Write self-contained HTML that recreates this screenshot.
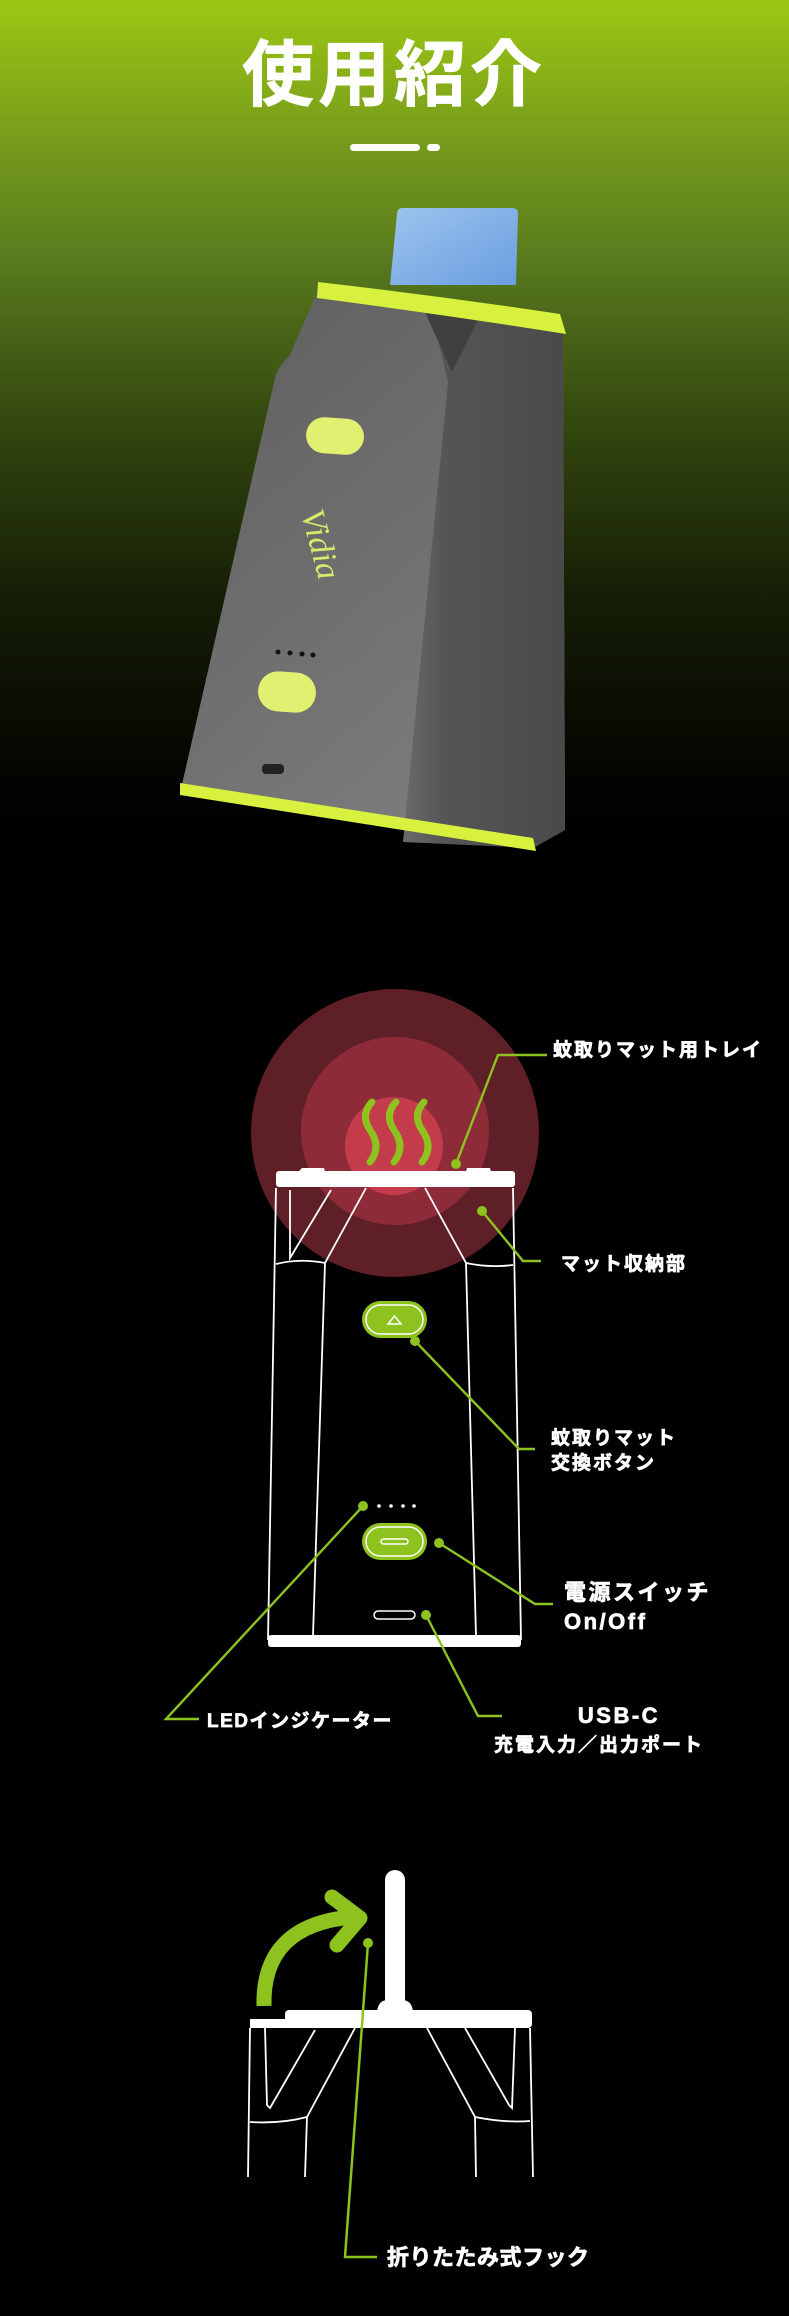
<!DOCTYPE html>
<html><head><meta charset="utf-8"><style>
html,body{margin:0;padding:0;background:#000;}
body{width:789px;height:2316px;position:relative;overflow:hidden;font-family:"Liberation Sans","Noto Sans CJK JP",sans-serif;}
.bg{position:absolute;left:0;top:0;width:789px;height:840px;background:linear-gradient(#9cc813 0px,#7ca21a 120px,#587a1e 260px,#34480f 420px,#151d06 600px,#030401 780px,#000 840px);}
svg{position:absolute;left:0;top:0;}
.t{fill:#fff;font-weight:bold;font-family:"Liberation Sans","Noto Sans CJK JP",sans-serif;stroke:#fff;stroke-width:0.7;}
</style></head><body>
<div class="bg"></div>
<svg width="789" height="2316" viewBox="0 0 789 2316">
<defs>
<linearGradient id="lf" x1="0" y1="0" x2="0.6" y2="1"><stop offset="0" stop-color="#5e5e5e"/><stop offset="1" stop-color="#7c7c7c"/></linearGradient>
<linearGradient id="rf" x1="0" y1="0" x2="1" y2="0"><stop offset="0" stop-color="#6a6a6a"/><stop offset="0.25" stop-color="#555"/><stop offset="1" stop-color="#4a4a4a"/></linearGradient>
<linearGradient id="bl" x1="0" y1="0" x2="1" y2="1"><stop offset="0" stop-color="#9cc4ee"/><stop offset="1" stop-color="#6a9ee0"/></linearGradient>
</defs>
<text x="394" y="100" text-anchor="middle" class="t" font-size="72" letter-spacing="4" stroke-width="1">使用紹介</text>
<rect x="350" y="144" width="70" height="7" rx="3.5" fill="#fff"/>
<rect x="427" y="144" width="13" height="7" rx="3.5" fill="#fff"/>

<!-- device 1 -->
<path d="M397 214 Q397 208 403 208 L512 208 Q518 208 518 214 L516 285 L390 285 Z" fill="url(#bl)"/>
<path d="M317 292 L563 327 L565 830 L533 848 L180 793 L183 780 L275 378 Q278 366 290 355 Z" fill="url(#lf)"/>
<path d="M432 314 L563 327 L565 830 L533 848 L403 842 L448 382 Z" fill="url(#rf)"/>
<path d="M425 312 L478 320 L452 372 Z" fill="#404040"/>
<path d="M318 282 Q440 296 560 314 L566 334 Q440 314 317 298 Z" fill="#d8f03e"/>
<path d="M180 783 L533 838 L536 851 L180 795 Z" fill="#d8f03e"/>
<rect x="306" y="418" width="58" height="36" rx="18" fill="#e0f070" transform="rotate(4 335 436)"/>
<rect x="258" y="672" width="58" height="40" rx="20" fill="#e0f070" transform="rotate(4 287 692)"/>
<g fill="#111"><circle cx="278" cy="652" r="2.5"/><circle cx="290" cy="653" r="2.5"/><circle cx="302" cy="654" r="2.5"/><circle cx="313" cy="655" r="2.5"/></g>
<rect x="262" y="764" width="22" height="10" rx="4" fill="#222"/>
<text x="310" y="547" fill="#d8ea6a" font-size="34" font-style="italic" font-family="Liberation Serif,serif" transform="rotate(75 310 547)" text-anchor="middle">Vidia</text>

<!-- section 2 -->
<circle cx="395" cy="1133" r="144" fill="#5e1f27"/>
<circle cx="395" cy="1131" r="94" fill="#8d2c38"/>
<circle cx="394" cy="1146" r="49" fill="#c43b4c"/>
<g fill="none" stroke="#8dc21f" stroke-width="7" stroke-linecap="round">
<path d="M372 1102 Q360 1115 370 1130 Q382 1147 370 1162"/>
<path d="M396 1102 Q384 1115 394 1130 Q406 1147 394 1162"/>
<path d="M424 1102 Q412 1115 422 1130 Q434 1147 422 1162"/>
</g>
<g fill="none" stroke="#fff" stroke-width="1.8">
<path d="M276 1188 L268 1640 M513 1188 L521 1640"/>
<path d="M290 1190 L290 1258 L331 1190"/>
<path d="M366 1188 L325 1263 L313 1636"/>
<path d="M425 1188 L466 1263 L476 1636"/>
<path d="M276 1264 Q300 1258 325 1263"/>
<path d="M466 1263 Q490 1268 513 1265"/>
</g>
<path d="M298 1172 L302 1168 L324 1168 L325 1172 Z M466 1172 L467 1168 L490 1168 L491 1172 Z" fill="#fff"/>
<rect x="276" y="1171" width="239" height="16" rx="3" fill="#fff"/>
<rect x="268" y="1635" width="253" height="12" rx="3" fill="#fff"/>
<rect x="362" y="1301" width="65" height="37" rx="18.5" fill="#8dc21f"/>
<rect x="366" y="1305" width="57" height="29" rx="14.5" fill="none" stroke="#fff" stroke-width="1.5"/>
<path d="M388 1324 L401 1324 L394.5 1316 Z" fill="none" stroke="#fff" stroke-width="1.5"/>
<rect x="362" y="1523" width="65" height="37" rx="18.5" fill="#8dc21f"/>
<rect x="366" y="1527" width="57" height="29" rx="14.5" fill="none" stroke="#fff" stroke-width="1.5"/>
<rect x="381" y="1539" width="27" height="5" rx="2.5" fill="none" stroke="#fff" stroke-width="1.5"/>
<g fill="#fff"><circle cx="379" cy="1506" r="1.8"/><circle cx="391" cy="1506" r="1.8"/><circle cx="403" cy="1506" r="1.8"/><circle cx="414" cy="1506" r="1.8"/></g>
<rect x="374" y="1611" width="41" height="8" rx="4" fill="none" stroke="#fff" stroke-width="1.5"/>
<g fill="none" stroke="#8dc21f" stroke-width="2.4">
<path d="M456 1164 L498 1055 L547 1055"/>
<path d="M482 1211 L523 1261 L541 1261"/>
<path d="M415 1341 L519 1449 L535 1449"/>
<path d="M439 1543 L535 1604 L553 1604"/>
<path d="M426 1615 L478 1716 L502 1716"/>
<path d="M363 1506 L166 1719 L199 1719"/>
</g>
<g fill="#8dc21f"><circle cx="456" cy="1164" r="5"/><circle cx="482" cy="1211" r="5"/><circle cx="415" cy="1341" r="5"/><circle cx="439" cy="1543" r="5"/><circle cx="426" cy="1615" r="5"/><circle cx="363" cy="1506" r="5"/></g>
<g class="t" font-size="19" letter-spacing="2">
<text x="553" y="1056">蚊取りマット用トレイ</text>
<text x="561" y="1270">マット収納部</text>
<text x="551" y="1444">蚊取りマット</text>
<text x="551" y="1469">交換ボタン</text>
<text x="494" y="1751">充電入力／出力ポート</text>
<text x="207" y="1727" letter-spacing="1.5">LEDインジケーター</text>
</g>
<g class="t" font-size="22" letter-spacing="2.5">
<text x="564" y="1600">電源スイッチ</text>
<text x="564" y="1629">On/Off</text>
<text x="619" y="1723" text-anchor="middle">USB-C</text>
</g>

<!-- section 3 -->
<rect x="385" y="1870" width="20" height="145" rx="10" fill="#fff"/>
<path d="M377 2012 Q378 2000 388 2000 L402 2000 Q412 2000 413 2012 Z" fill="#fff"/>
<rect x="285" y="2010" width="247" height="18" rx="4" fill="#fff"/>
<rect x="250" y="2019" width="40" height="9" fill="#fff"/>
<g fill="none" stroke="#fff" stroke-width="1.8">
<path d="M250 2028 L248 2177 M530 2028 L533 2177"/>
<path d="M265 2028 L267 2105 L270 2108 L315 2030"/>
<path d="M355 2028 L307 2117 L305 2177"/>
<path d="M250 2122 Q280 2124 307 2117"/>
<path d="M427 2028 L475 2117 L476 2177"/>
<path d="M465 2028 L509 2105 L512 2108 L515 2028"/>
<path d="M475 2117 Q505 2123 530 2121"/>
</g>
<path d="M264 2006 Q262 1925 352 1917" fill="none" stroke="#8dc21f" stroke-width="15"/>
<path d="M332 1897 L360 1918 L337 1945" fill="none" stroke="#8dc21f" stroke-width="15" stroke-linecap="round" stroke-linejoin="round"/>
<path d="M368 1943 L345 2257 L377 2257" fill="none" stroke="#8dc21f" stroke-width="2.5"/>
<circle cx="368" cy="1943" r="5" fill="#8dc21f"/>
<text x="387" y="2265" class="t" font-size="22" letter-spacing="0.5">折りたたみ式フック</text>
</svg>
</body></html>
